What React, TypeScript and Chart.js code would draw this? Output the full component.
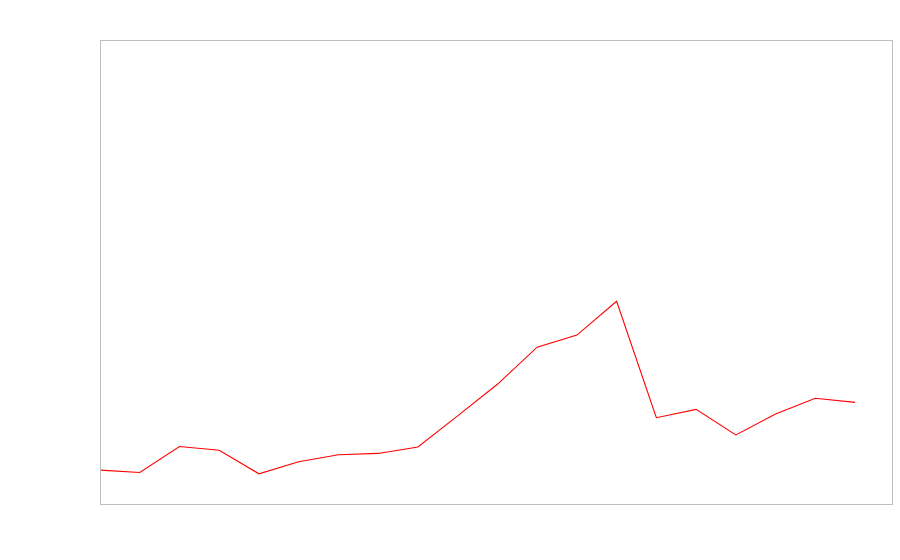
import React, { useEffect, useRef } from "react";
import { Chart, registerables } from "chart.js";

Chart.register(...registerables);

const xValues = [0, 1, 2, 3, 4, 5, 6, 7, 8, 9, 10, 11, 12, 13, 14, 15, 16, 17, 18, 19];
const seriesValues = [7.3, 6.8, 12.4, 11.6, 6.5, 9.1, 10.6, 10.9, 12.3, 19.0, 25.8, 33.8, 36.4, 43.7, 18.6, 20.4, 14.9, 19.4, 22.8, 21.9];
const xMin = 0;
const xMax = 19.93;
const yMin = 0;
const yMax = 100;

const frame = {
  id: "frame",
  afterDraw(chart: any) {
    const { ctx, chartArea } = chart;
    ctx.save();
    ctx.strokeStyle = "#bfbfbf";
    ctx.lineWidth = 1;
    ctx.strokeRect(chartArea.left + 0.5, chartArea.top + 0.5, chartArea.right - chartArea.left, chartArea.bottom - chartArea.top);
    ctx.restore();
  },
};

export default function App() {
  const ref = useRef<HTMLCanvasElement | null>(null);
  useEffect(() => {
    if (!ref.current) return;
    const chart = new Chart(ref.current, {
      type: "line",
      data: {
        datasets: [
          {
            data: xValues.map((x, i) => ({ x, y: seriesValues[i] })),
            borderColor: "#ff0000",
            borderWidth: 1.1,
            pointRadius: 0,
            tension: 0,
            fill: false,
          },
        ],
      },
      options: {
        animation: false,
        responsive: false,
        maintainAspectRatio: false,
        layout: { padding: { left: 100, top: 40, right: 8, bottom: 56 } },
        plugins: { legend: { display: false }, tooltip: { enabled: false } },
        scales: {
          x: { type: "linear", display: false, min: xMin, max: xMax },
          y: { display: false, min: yMin, max: yMax },
        },
      },
      plugins: [frame],
    });
    return () => chart.destroy();
  }, []);
  return (
    <div style={{ position: "fixed", left: 0, top: 0, width: 900, height: 560, background: "#fff" }}>
      <canvas ref={ref} width={900} height={560} style={{ width: 900, height: 560 }} />
    </div>
  );
}
